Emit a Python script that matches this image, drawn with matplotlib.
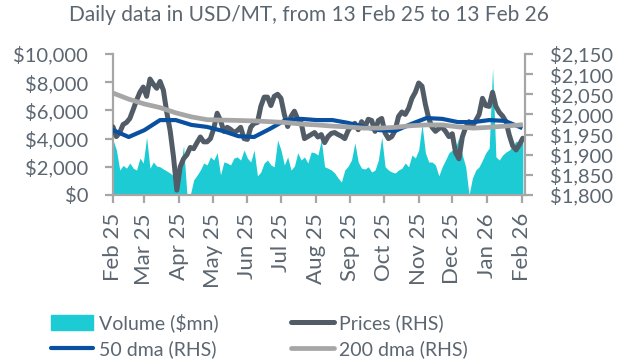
import matplotlib
matplotlib.use("Agg")
import matplotlib.pyplot as plt
import matplotlib.dates as mdates
from matplotlib.patches import Patch
from matplotlib.lines import Line2D
import pandas as pd

plt.rcParams["font.family"] = ["Lato", "DejaVu Sans"]

title = "Daily data in USD/MT, from 13 Feb 25 to 13 Feb 26"

# prices and volume, one reading every third day from 13 Feb 25
prices = [1969, 1945, 1955, 1975, 1980, 1990, 2012, 2035, 2055, 2068,
          2045, 2088, 2075, 2065, 2082, 2060, 2005, 1960, 1895, 1812,
          1870, 1890, 1900, 1918, 1915, 1930, 1944, 1932, 1932, 1940,
          1965, 2003, 1985, 1958, 1968, 1963, 1955, 1960, 1968, 1940,
          1938, 1968, 1978, 1980, 2020, 2043, 2043, 2022, 2045, 2050,
          2040, 2000, 1970, 1995, 2008, 1988, 1980, 1940, 1945, 1950,
          1955, 1944, 1950, 1930, 1945, 1953, 1955, 1950, 1946, 1940,
          1960, 1972, 1978, 1962, 1982, 1969, 1988, 1985, 1958, 1985,
          1990, 1954, 1940, 1945, 1961, 1995, 2006, 2000, 2015, 2040,
          2055, 2078, 2070, 2025, 1990, 1968, 1958, 1965, 1968, 1958,
          1945, 1952, 1905, 1890, 1944, 1968, 1982, 1970, 1985, 2000,
          2040, 2022, 2020, 2055, 2020, 2005, 1996, 1982, 1948, 1922,
          1912, 1925, 1941]

volume = [3900, 3200, 1770, 2100, 1900, 2270, 1900, 1770, 2620, 2270,
          4100, 1900, 2340, 2050, 2000, 1840, 1700, 1560, 1350, 1280,
          1770, 3500, 0, 0, 1060, 1400, 1770, 2270, 2130, 2700,
          2480, 3000, 1420, 2340, 2270, 2130, 2620, 2700, 2480, 3190,
          2620, 2340, 3190, 1350, 1630, 2270, 2480, 2130, 2000, 3900,
          3190, 2130, 2700, 1770, 2050, 3000, 2480, 2700, 2270, 3050,
          3000, 2840, 3900, 2000, 1900, 1770, 1560, 1200, 920, 1770,
          2050, 2480, 3700, 2340, 1900, 1840, 2000, 1630, 1770, 2480,
          4100, 2000, 1770, 1630, 1560, 1770, 1900, 2270, 2000, 2840,
          2620, 3190, 5000, 3000, 2340, 2340, 2130, 1350, 2000, 2480,
          3000, 3190, 3400, 4100, 2840, 2000, 0, 1200, 1770, 2000,
          2480, 3000, 3330, 9000, 2700, 2480, 2840, 3050, 3190, 3470,
          3830, 3690, 3900]

# moving averages, one reading every two weeks
dma_50 = [1961, 1944, 1961, 1986, 1986, 1974, 1969, 1959, 1946, 1944,
          1964, 1986, 1989, 1986, 1986, 1979, 1969, 1961, 1959, 1976,
          1991, 1989, 1981, 1981, 1986, 1984, 1968]
dma_200 = [2053, 2038, 2026, 2017, 2004, 1994, 1987, 1986, 1985, 1984,
           1982, 1980, 1976, 1974, 1971, 1969, 1966, 1966, 1968, 1972,
           1974, 1974, 1969, 1966, 1968, 1971, 1974]

days = pd.date_range("2025-02-13", periods=len(prices), freq="3D")
weeks = pd.date_range("2025-02-13", periods=len(dma_50), freq="14D")

c_vol = "#1ccbd3"
c_price = "#525c67"
c_50 = "#0a50a0"
c_200 = "#a6a6a6"
c_text = "#5b6670"
c_axis = "#a6a6a6"

fig = plt.figure(figsize=(6.29, 3.64), dpi=100)
ax = fig.add_axes([0.1797, 0.4643, 0.655, 0.3873])
ax2 = ax.twinx()

ax.fill_between(days, volume, 0, color=c_vol, linewidth=0)
ax2.plot(days, prices, color=c_price, lw=3.6, solid_capstyle="round")
ax2.plot(weeks, dma_50, color=c_50, lw=3.0)
ax2.plot(weeks, dma_200, color=c_200, lw=3.4)

ax.set_ylim(0, 10000)
ax.set_yticks(range(0, 10001, 2000))
ax.set_yticklabels([f"${v:,}" for v in range(0, 10001, 2000)])
ax2.set_ylim(1800, 2150)
ax2.set_yticks(range(1800, 2151, 50))
ax2.set_yticklabels([f"${v:,}" for v in range(1800, 2151, 50)])

ax.set_xlim(pd.Timestamp("2025-02-13"), pd.Timestamp("2026-02-16"))
ticks = [pd.Timestamp("2025-02-13") + pd.DateOffset(months=m) for m in range(13)]
ax.set_xticks(ticks)
ax.xaxis.set_major_formatter(mdates.DateFormatter("%b %y"))
plt.setp(ax.get_xticklabels(), rotation=90)

for a in (ax, ax2):
    for s in a.spines.values():
        s.set_color(c_axis)
        s.set_linewidth(1.6)
    a.spines["top"].set_visible(False)
    a.tick_params(axis="y", colors=c_axis, labelcolor=c_text, labelsize=14.5,
                  width=1.6, length=6, pad=12)
ax.tick_params(axis="x", colors=c_axis, labelcolor=c_text, labelsize=16,
               width=1.6, length=6, pad=7)
ax.spines["right"].set_visible(False)
ax2.spines["left"].set_visible(False)
ax2.spines["bottom"].set_visible(False)

fig.text(0.491, 0.958, title, ha="center", va="center", fontsize=15, color=c_text)

handles = [Patch(color=c_vol),
           Line2D([], [], color=c_50, lw=3.0, solid_capstyle="round"),
           Line2D([], [], color=c_price, lw=3.6, solid_capstyle="round"),
           Line2D([], [], color=c_200, lw=3.4, solid_capstyle="round")]
labels = ["Volume ($mn)", "50 dma (RHS)", "Prices (RHS)", "200 dma (RHS)"]
fig.legend(handles, labels, loc="lower left", bbox_to_anchor=(0.068, -0.005),
           ncol=2, frameon=False, fontsize=14, labelcolor=c_text,
           handlelength=2.2, handleheight=0.8, handletextpad=0.3,
           columnspacing=3.7, labelspacing=0.4, borderaxespad=0)

fig.savefig("out.png", dpi=100)
